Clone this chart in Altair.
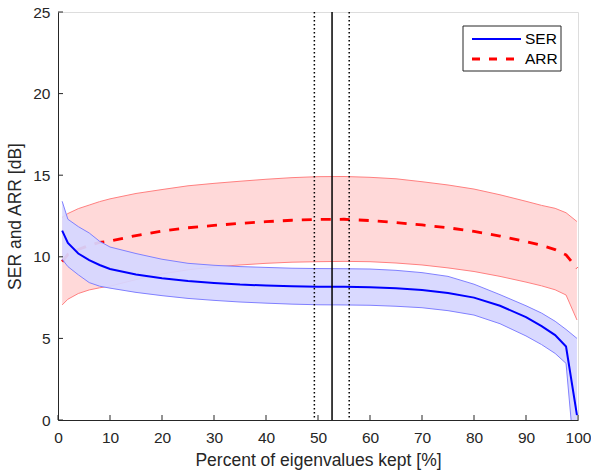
import altair as alt
import pandas as pd

# ---- data ----
x_pct = [0.8, 1.9, 3.9, 6.0, 8.0, 10, 15, 20, 25, 30, 35, 40, 45, 50, 55, 60,
         65, 70, 75, 80, 85, 90, 93, 95.6, 97.7, 99.8]
ser_mean = [11.6, 10.85, 10.2, 9.8, 9.5, 9.25, 8.92, 8.68, 8.52, 8.4, 8.3, 8.24,
            8.2, 8.17, 8.16, 8.13, 8.07, 7.97, 7.78, 7.5, 7.0, 6.3, 5.75, 5.2, 4.5, 0.3]
ser_hi = [13.4, 12.3, 11.85, 11.46, 10.95, 10.6, 10.2, 9.85, 9.6, 9.48, 9.4, 9.35,
          9.3, 9.28, 9.27, 9.25, 9.17, 9.03, 8.8, 8.32, 7.68, 7.0, 6.55, 6.05, 5.55, 5.0]
ser_lo = [9.85, 9.4, 8.9, 8.42, 8.2, 8.08, 7.82, 7.62, 7.45, 7.33, 7.23, 7.16,
          7.1, 7.06, 7.05, 7.03, 6.97, 6.88, 6.7, 6.43, 5.9, 5.15, 4.62, 4.08, 3.47, -4.0]
arr_mean = [9.7, 10.15, 10.45, 10.7, 10.88, 10.97, 11.3, 11.58, 11.78, 11.92, 12.05,
            12.15, 12.24, 12.29, 12.3, 12.22, 12.1, 11.95, 11.78, 11.56, 11.27, 10.93,
            10.7, 10.44, 10.12, 9.3]
arr_hi = [12.42, 12.65, 12.95, 13.17, 13.38, 13.55, 13.88, 14.12, 14.35, 14.5, 14.63,
          14.75, 14.85, 14.91, 14.92, 14.87, 14.78, 14.6, 14.4, 14.15, 13.8, 13.4,
          13.15, 12.97, 12.7, 12.16]
arr_lo = [7.05, 7.4, 7.75, 7.97, 8.1, 8.2, 8.6, 8.95, 9.2, 9.38, 9.5, 9.6, 9.67, 9.7,
          9.72, 9.7, 9.62, 9.5, 9.32, 9.1, 8.8, 8.45, 8.22, 7.98, 7.66, 6.13]

vline_solid = [52.7]
vline_dotted = [49.3, 56.0]

x_ticks = [0, 10, 20, 30, 40, 50, 60, 70, 80, 90, 100]
y_ticks = [0, 5, 10, 15, 20, 25]
legend_labels = ["SER", "ARR"]

x_title = "Percent of eigenvalues kept [%]"
y_title = "SER and ARR [dB]"

df = pd.DataFrame({
    "x": x_pct, "ser": ser_mean, "ser_hi": ser_hi, "ser_lo": ser_lo,
    "arr": arr_mean, "arr_hi": arr_hi, "arr_lo": arr_lo,
})

W, H = 520, 408
FONT = "Liberation Sans"
AX = "#262626"

xs = alt.Scale(domain=[0, 100], nice=False, zero=False)
ys = alt.Scale(domain=[0, 25], nice=False, zero=False)

xaxis = alt.Axis(values=x_ticks, title=x_title, ticks=False, tickSize=0, grid=False,
                 labelPadding=10, titlePadding=6, domainColor=AX, labelColor=AX,
                 titleColor=AX, labelFont=FONT, titleFont=FONT, labelFontSize=15.5,
                 titleFontSize=17.5, titleFontWeight="normal", labelFlush=False)
yaxis = alt.Axis(values=y_ticks, title=y_title, ticks=False, tickSize=0, grid=False,
                 labelPadding=8, titlePadding=8, domainColor=AX, labelColor=AX,
                 titleColor=AX, labelFont=FONT, titleFont=FONT, labelFontSize=15.5,
                 titleFontSize=17.5, titleFontWeight="normal", labelFlush=False)


def X(field="x"):
    return alt.X(f"{field}:Q", scale=xs, axis=xaxis)


def Y(field):
    return alt.Y(f"{field}:Q", scale=ys, axis=yaxis)


base = alt.Chart(df)

arr_band = base.mark_area(color="#ff0000", opacity=0.15, clip=True).encode(
    x=X(), y=Y("arr_lo"), y2="arr_hi")
arr_hi_l = base.mark_line(color="#ff8080", strokeWidth=1, clip=True).encode(x=X(), y=Y("arr_hi"))
arr_lo_l = base.mark_line(color="#ff8080", strokeWidth=1, clip=True).encode(x=X(), y=Y("arr_lo"))
arr_line = base.mark_line(color="#ff0000", strokeWidth=2.8, strokeDash=[10, 9], clip=True).encode(
    x=X(), y=Y("arr"))

ser_band = base.mark_area(color="#d6d6ff", opacity=0.93, clip=True).encode(
    x=X(), y=Y("ser_lo"), y2="ser_hi")
ser_hi_l = base.mark_line(color="#8080ff", strokeWidth=1, clip=True).encode(x=X(), y=Y("ser_hi"))
ser_lo_l = base.mark_line(color="#8080ff", strokeWidth=1, clip=True).encode(x=X(), y=Y("ser_lo"))
ser_line = base.mark_line(color="#0000ff", strokeWidth=2, clip=True).encode(x=X(), y=Y("ser"))

v_solid = alt.Chart(pd.DataFrame({"v": vline_solid})).mark_rule(
    color="black", strokeWidth=1.5).encode(x=X("v"))
v_dot = alt.Chart(pd.DataFrame({"v": vline_dotted})).mark_rule(
    color="black", strokeWidth=1.5, strokeDash=[1.5, 2.5]).encode(x=X("v"))

xt = alt.Chart(pd.DataFrame({"t": x_ticks})).mark_rule(color=AX, strokeWidth=1).encode(
    x=X("t"), y=alt.value(H), y2=alt.value(H - 5))
yt = alt.Chart(pd.DataFrame({"t": y_ticks})).mark_rule(color=AX, strokeWidth=1).encode(
    y=Y("t"), x=alt.value(0), x2=alt.value(5))

# legend (drawn inside the plot area, top right)
leg_box = alt.Chart(pd.DataFrame({"a": [0]})).mark_rect(
    fill="white", stroke=AX, strokeWidth=1).encode(
    x=alt.value(405), x2=alt.value(503), y=alt.value(14), y2=alt.value(59))
leg_ser = alt.Chart(pd.DataFrame({"a": [0]})).mark_rule(color="#0000ff", strokeWidth=2).encode(
    x=alt.value(414), x2=alt.value(463), y=alt.value(27))
leg_arr = alt.Chart(pd.DataFrame({"a": [0]})).mark_rule(
    color="#ff0000", strokeWidth=2.8, strokeDash=[8, 9]).encode(
    x=alt.value(414), x2=alt.value(463), y=alt.value(47))
leg_txt = alt.Chart(pd.DataFrame({"lab": legend_labels, "py": [27, 47]})).mark_text(
    align="left", baseline="middle", font=FONT, fontSize=15.5, color="black").encode(
    text="lab:N", x=alt.value(467), y=alt.Y("py:Q", scale=None))

chart = alt.layer(
    arr_band, arr_hi_l, arr_lo_l, arr_line,
    ser_band, ser_hi_l, ser_lo_l, ser_line,
    v_dot, v_solid, xt, yt,
    leg_box, leg_ser, leg_arr, leg_txt,
).properties(
    width=W, height=H,
    autosize=alt.AutoSizeParams(type="none"),
    padding={"left": 58, "top": 12, "right": 13, "bottom": 56},
).configure_view(stroke=None).configure(background="white")

chart.save("out.html", embed_options={"renderer": "svg", "actions": False})
